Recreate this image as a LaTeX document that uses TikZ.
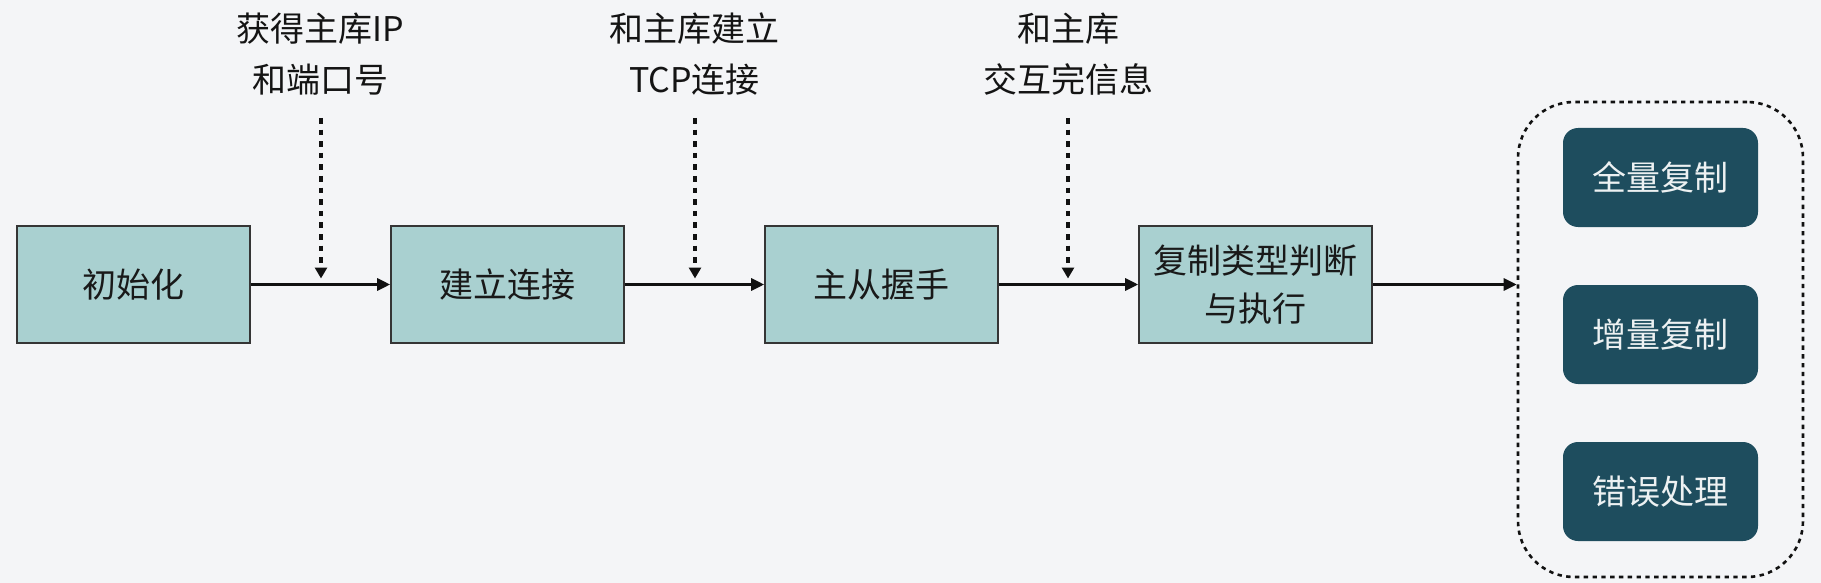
\documentclass[tikz,border=0pt]{standalone}
\usepackage{fontspec}
\setmainfont{Noto Sans CJK SC}
\usetikzlibrary{arrows.meta}
\definecolor{bgc}{HTML}{F4F5F7}
\definecolor{boxc}{HTML}{A9D0D0}
\definecolor{darkc}{HTML}{1E4D5E}
\definecolor{linec}{HTML}{111111}
\begin{document}
\begin{tikzpicture}[x=0.5pt,y=-0.5pt,
  stepbox/.style={draw=linec!85,line width=0.8pt,fill=boxc,minimum width=116.5pt,minimum height=58.5pt,inner sep=0pt,font=\fontsize{17pt}{24pt}\selectfont,text=black!90,align=center},
  darkbox/.style={fill=darkc,rounded corners=7.5pt,minimum width=97.5pt,minimum height=49.5pt,inner sep=0pt,font=\fontsize{17pt}{24pt}\selectfont,text=white!92!darkc},
  lbl/.style={font=\fontsize{17pt}{25.5pt}\selectfont,align=center,inner sep=0pt,text=black!92},
  flow/.style={line width=1.4pt,draw=linec,-{Triangle[length=6.5pt,width=6pt]}},
  hint/.style={line width=1.7pt,draw=linec,dash pattern=on 2.8pt off 3pt,-{Triangle[length=5.5pt,width=6pt]}},
  groupbox/.style={draw=linec,line width=1.3pt,dash pattern=on 2.2pt off 2.2pt,rounded corners=28pt}
]
\useasboundingbox[fill=bgc] (0,0) rectangle (1821,583);
% main boxes
\node[stepbox] (b1) at (133.5,284.5) {初始化};
\node[stepbox] (b2) at (507.5,284.5) {建立连接};
\node[stepbox] (b3) at (881.5,284.5) {主从握手};
\node[stepbox] (b4) at (1255.5,284.5) {复制类型判断\\与执行};
% group container
\node[groupbox,minimum width=142.5pt,minimum height=237.5pt,inner sep=0pt] (grp) at (1660.5,339.5) {};
\node[darkbox] (r1) at (1660.5,177.5) {全量复制};
\node[darkbox] (r2) at (1660.5,334.5) {增量复制};
\node[darkbox] (r3) at (1660.5,491.5) {错误处理};
% labels
\node[lbl] (l1) at (320,54.5) {获得主库IP\\和端口号};
\node[lbl] (l2) at (694.5,54.5) {和主库建立\\TCP连接};
\node[lbl] (l3) at (1068,54.5) {和主库\\交互完信息};
% dashed hint arrows
\coordinate (s1) at (321,118);   \coordinate (e1) at (321,278.5);
\coordinate (s2) at (695,118); \coordinate (e2) at (695,278.5);
\coordinate (s3) at (1068,118);  \coordinate (e3) at (1068,278.5);
\draw[hint] (s1) -- (e1);
\draw[hint] (s2) -- (e2);
\draw[hint] (s3) -- (e3);
% flow arrows
\draw[flow] (b1.east) -- (b2.west);
\draw[flow] (b2.east) -- (b3.west);
\draw[flow] (b3.east) -- (b4.west);
\draw[flow] (b4.east) -- (b4.east -| grp.west);
\end{tikzpicture}
\end{document}
